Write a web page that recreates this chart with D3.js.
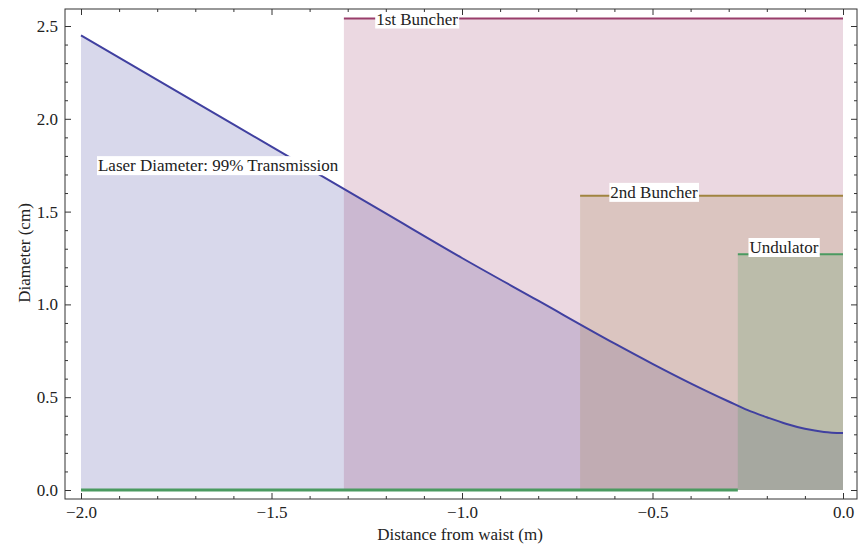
<!DOCTYPE html>
<html>
<head>
<meta charset="utf-8">
<script src="https://cdn.jsdelivr.net/npm/d3@7"></script>
<style>
  body { margin: 0; background: #fff; }
  text { font-family: "Liberation Serif", "Times New Roman", serif; fill: #222; }
</style>
</head>
<body>
<div id="chart"></div>
<script>
/** Laser diameter along the beam */
const distance = [-2.0, -1.8, -1.6, -1.4, -1.2, -1.0, -0.8, -0.6, -0.5, -0.4, -0.3, -0.25, -0.2, -0.15, -0.1, -0.05, 0.0];
const diameter = [2.45, 2.21, 1.97, 1.73, 1.49, 1.25, 1.02, 0.79, 0.68, 0.575, 0.477, 0.43, 0.392, 0.357, 0.330, 0.313, 0.307];

/** Apertures of the beam line elements */
const elementNames = ["1st Buncher", "2nd Buncher", "Undulator"];
const elementStart = [-1.31, -0.69, -0.276];
const elementEnd = [0, 0, 0];
const elementDiameter = [2.54, 1.585, 1.27];

/** Zero line (green) */
const zeroStart = -2.0;
const zeroEnd = -0.276;

/** Label anchors, in data units */
const laserLabel = "Laser Diameter: 99% Transmission";
const laserLabelAt = [-1.64, 1.75];
const elementLabelAt = [[-1.118, 2.54], [-0.496, 1.606], [-0.155, 1.309]];

const xMajor = [-2, -1.5, -1, -0.5, 0];
const yMajor = [0, 0.5, 1, 1.5, 2, 2.5];

const w = 865, h = 546;
const frame = {left: 65, right: 857, top: 9, bottom: 499};
const fontSize = "17px";

const lineColors = ["#993d6b", "#a08440", "#4a9a60"];
const fillColors = ["#993d6b", "#997f3d", "#3d9955"];

const x = d3.scaleLinear().domain([-2, 0]).range([81, 843]);
const y = d3.scaleLinear().domain([0, 2.5]).range([490, 26]);

const svg = d3.select("#chart").append("svg")
  .attr("width", w)
  .attr("height", h);

const laser = distance.map((d, i) => ({x: d, y: diameter[i]}));

/** Fill under the laser curve */
svg.append("path")
  .datum(laser)
  .attr("fill", "#3d3d99")
  .attr("fill-opacity", 0.2)
  .attr("d", d3.area().x(d => x(d.x)).y0(y(0)).y1(d => y(d.y)).curve(d3.curveMonotoneX));

/** Element aperture fills */
elementNames.forEach((name, i) => {
  svg.append("rect")
    .attr("x", x(elementStart[i]))
    .attr("y", y(elementDiameter[i]))
    .attr("width", x(elementEnd[i]) - x(elementStart[i]))
    .attr("height", y(0) - y(elementDiameter[i]))
    .attr("fill", fillColors[i])
    .attr("fill-opacity", 0.2);
});

/** Zero line */
svg.append("line")
  .attr("x1", x(zeroStart)).attr("x2", x(zeroEnd))
  .attr("y1", y(0)).attr("y2", y(0))
  .attr("stroke", "#4a9a60")
  .attr("stroke-width", 3);

/** Element top lines */
elementNames.forEach((name, i) => {
  svg.append("line")
    .attr("x1", x(elementStart[i])).attr("x2", x(elementEnd[i]))
    .attr("y1", y(elementDiameter[i])).attr("y2", y(elementDiameter[i]))
    .attr("stroke", lineColors[i])
    .attr("stroke-width", 2);
});

/** Laser curve */
svg.append("path")
  .datum(laser)
  .attr("fill", "none")
  .attr("stroke", "#4040a0")
  .attr("stroke-width", 2)
  .attr("d", d3.line().x(d => x(d.x)).y(d => y(d.y)).curve(d3.curveMonotoneX));

/** Labels with white boxes */
function label(text, at) {
  const g = svg.append("g");
  const t = g.append("text")
    .attr("x", x(at[0]))
    .attr("y", y(at[1]))
    .attr("dy", "0.35em")
    .style("text-anchor", "middle")
    .style("font-size", fontSize)
    .text(text);
  const b = t.node().getBBox();
  g.insert("rect", "text")
    .attr("x", b.x - 1)
    .attr("y", b.y)
    .attr("width", b.width + 2)
    .attr("height", b.height)
    .attr("fill", "#fff");
}
label(laserLabel, laserLabelAt);
elementNames.forEach((name, i) => label(name, elementLabelAt[i]));

/** Frame */
svg.append("rect")
  .attr("x", frame.left).attr("y", frame.top)
  .attr("width", frame.right - frame.left)
  .attr("height", frame.bottom - frame.top)
  .attr("fill", "none")
  .attr("stroke", "#333")
  .attr("stroke-width", 1);

const fmt = d3.format(".1f");
const xMinor = d3.range(-20, 1).map(d => d / 10).filter(d => !xMajor.some(m => Math.abs(m - d) < 1e-9));
const yMinor = d3.range(0, 26).map(d => d / 10).filter(d => !yMajor.some(m => Math.abs(m - d) < 1e-9));

function frameAxis(axisFn, scale, pos, major, minor, labels) {
  const gMaj = svg.append("g")
    .attr("transform", pos)
    .call(axisFn(scale).tickValues(major).tickSize(-6).tickPadding(labels ? 7 : 0)
      .tickFormat(labels ? fmt : ""));
  const gMin = svg.append("g")
    .attr("transform", pos)
    .call(axisFn(scale).tickValues(minor).tickSize(-3).tickFormat(""));
  [gMaj, gMin].forEach(g => {
    g.select(".domain").remove();
    g.selectAll("line").attr("stroke", "#333");
    g.selectAll("text").style("font-size", fontSize).attr("fill", "#222")
      .style("font-family", "'Liberation Serif', serif");
  });
}
frameAxis(d3.axisBottom, x, `translate(0,${frame.bottom})`, xMajor, xMinor, true);
frameAxis(d3.axisTop, x, `translate(0,${frame.top})`, xMajor, xMinor, false);
frameAxis(d3.axisLeft, y, `translate(${frame.left},0)`, yMajor, yMinor, true);
frameAxis(d3.axisRight, y, `translate(${frame.right},0)`, yMajor, yMinor, false);

/** Axis titles */
svg.append("text")
  .attr("x", 460)
  .attr("y", 540)
  .style("text-anchor", "middle")
  .style("font-size", fontSize)
  .text("Distance from waist (m)");

svg.append("text")
  .attr("transform", "translate(30,253) rotate(-90)")
  .style("text-anchor", "middle")
  .style("font-size", fontSize)
  .text("Diameter (cm)");
</script>
</body>
</html>
